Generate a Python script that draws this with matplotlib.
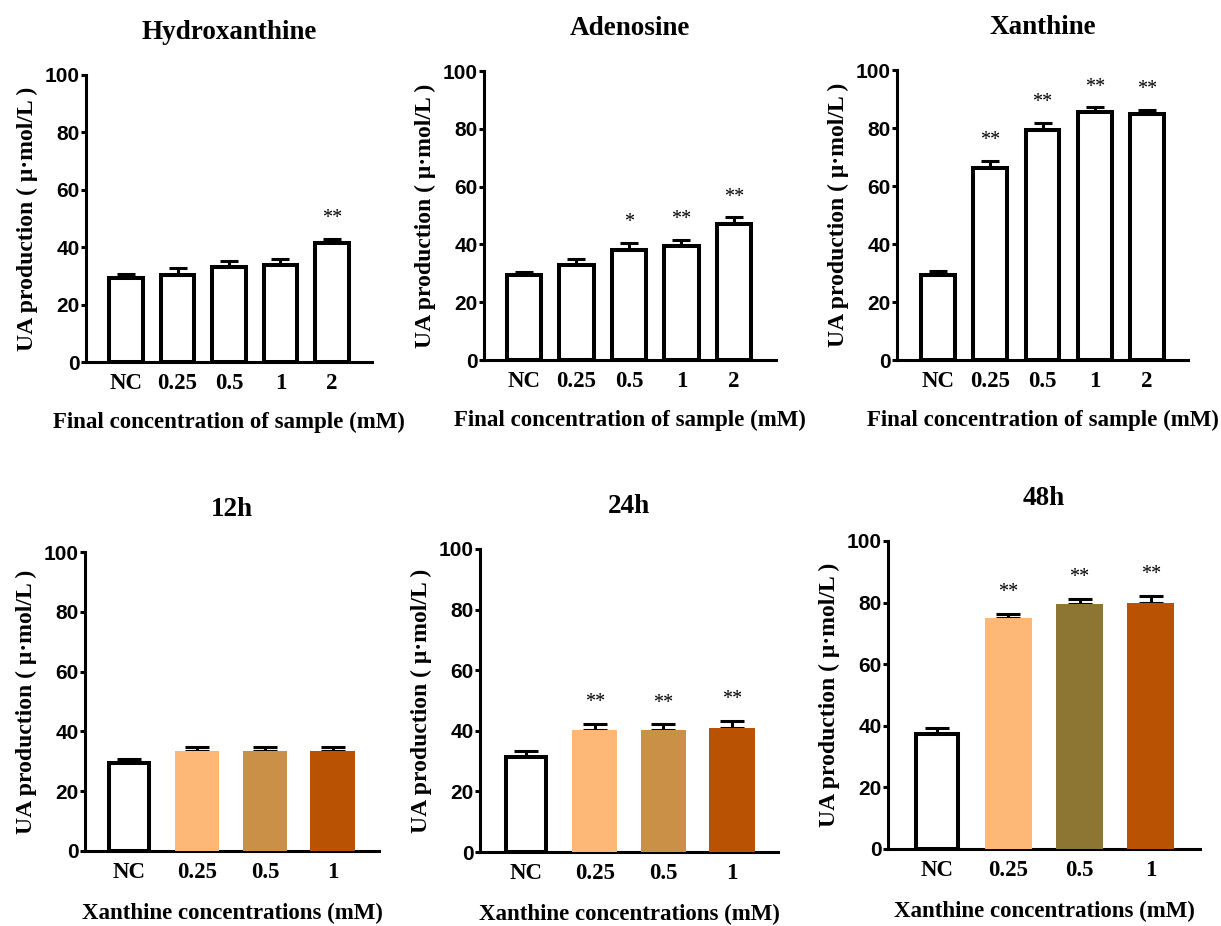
import matplotlib
matplotlib.use("Agg")
import matplotlib.pyplot as plt
import numpy as np

# ---------------- data ----------------
top_cats = ["NC", "0.25", "0.5", "1", "2"]
bot_cats = ["NC", "0.25", "0.5", "1"]

hyd_vals = [29.4, 30.3, 33.2, 33.8, 41.3]
hyd_err = [1.2, 2.4, 2.1, 2.0, 1.6]
hyd_sig = ["", "", "", "", "**"]

ade_vals = [29.3, 32.8, 38.2, 39.5, 47.2]
ade_err = [1.3, 2.2, 2.3, 2.0, 2.2]
ade_sig = ["", "", "*", "**", "**"]

xan_vals = [29.2, 66.3, 79.3, 85.5, 84.8]
xan_err = [1.4, 2.3, 2.4, 1.6, 1.5]
xan_sig = ["", "**", "**", "**", "**"]

h12_vals = [29.5, 33.4, 33.4, 33.4]
h12_err = [1.4, 1.3, 1.3, 1.3]
h12_sig = ["", "", "", ""]

h24_vals = [31.3, 40.3, 40.3, 41.0]
h24_err = [2.0, 2.1, 1.8, 2.3]
h24_sig = ["", "**", "**", "**"]

h48_vals = [37.5, 74.9, 79.5, 80.0]
h48_err = [1.8, 1.3, 1.6, 2.2]
h48_sig = ["", "**", "**", "**"]

titles = ["Hydroxanthine", "Adenosine", "Xanthine", "12h", "24h", "48h"]
top_xlabel = "Final concentration of sample (mM)"
bot_xlabel = "Xanthine concentrations (mM)"
ylabel = "UA production ( μ·mol/L )"
yticks = [0, 20, 40, 60, 80, 100]

col_light = "#FDB878"
col_tan = "#CA9048"
col_olive = "#8D7634"
col_dark = "#BA5203"
colors_12 = ["white", col_light, col_tan, col_dark]
colors_24 = ["white", col_light, col_tan, col_dark]
colors_48 = ["white", col_light, col_olive, col_dark]

# ---------------- style ----------------
plt.rcParams["font.family"] = ["Liberation Serif", "DejaVu Serif"]
plt.rcParams["font.weight"] = "bold"

W, H = 1221, 926
fig = plt.figure(figsize=(W / 100, H / 100), dpi=100)

def ax_px(left, right, top, bottom):
    return fig.add_axes([left / W, 1 - bottom / H, (right - left) / W, (bottom - top) / H])

axes_rects = [
    (86, 372, 75, 362),
    (484, 776, 71, 360),
    (897, 1188, 70, 360),
    (85, 379, 552, 851),
    (480, 778, 549, 852),
    (888, 1200, 541, 849),
]

panels = [
    (top_cats, hyd_vals, hyd_err, hyd_sig, None, (-0.78, 4.78), top_xlabel),
    (top_cats, ade_vals, ade_err, ade_sig, None, (-0.76, 4.8), top_xlabel),
    (top_cats, xan_vals, xan_err, xan_sig, None, (-0.785, 4.785), top_xlabel),
    (bot_cats, h12_vals, h12_err, h12_sig, colors_12, (-0.65, 3.68), bot_xlabel),
    (bot_cats, h24_vals, h24_err, h24_sig, colors_24, (-0.67, 3.67), bot_xlabel),
    (bot_cats, h48_vals, h48_err, h48_sig, colors_48, (-0.69, 3.69), bot_xlabel),
]

for rect, title, (cats, vals, errs, sigs, cols, xlim, xlabel) in zip(axes_rects, titles, panels):
    ax = ax_px(*rect)
    x = np.arange(len(cats))
    if cols is None:
        ax.bar(x, vals, width=0.65, color="white", edgecolor="black", linewidth=2.9, zorder=3)
        cap = 6.5
        xpad = 13
    else:
        for xi, v, c in zip(x, vals, cols):
            if c == "white":
                ax.bar(xi, v, width=0.58, color="white", edgecolor="black", linewidth=2.9, zorder=3)
            else:
                ax.bar(xi, v, width=0.66, color=c, edgecolor="none", zorder=3)
        cap = 8.5
        xpad = 14
    ax.errorbar(x, vals, yerr=[np.zeros(len(errs)), errs], fmt="none", ecolor="black",
                elinewidth=2.2, capsize=cap, capthick=2.2, zorder=2)
    for xi, v, e, s in zip(x, vals, errs, sigs):
        if s:
            ax.text(xi, v + e + 7.0, s, ha="center", va="center", fontsize=14.5,
                    fontweight="normal", zorder=5)
    ax.set_xlim(*xlim)
    ax.set_ylim(0, 100)
    ax.set_yticks(yticks)
    ax.set_xticks(x)
    ax.set_xticklabels(cats, fontsize=16.5, fontweight="bold")
    for lab in ax.get_yticklabels():
        lab.set_fontfamily("Liberation Sans")
        lab.set_fontweight("bold")
        lab.set_fontsize(15)
    ax.spines["top"].set_visible(False)
    ax.spines["right"].set_visible(False)
    ax.spines["left"].set_linewidth(2.2)
    ax.spines["bottom"].set_linewidth(2.2)
    ax.tick_params(axis="y", direction="out", length=3.5, width=2.2, pad=1)
    ax.tick_params(axis="x", direction="in", length=3.5, width=1.8, pad=8)
    ax.set_axisbelow(False)
    ax.set_title(title, fontsize=19.5, fontweight="bold", pad=26)
    ax.set_xlabel(xlabel, fontsize=16.5, fontweight="bold", labelpad=xpad)
    ax.set_ylabel(ylabel, fontsize=17, fontweight="bold", labelpad=5)

fig.savefig("out.png", dpi=100, facecolor="white")
